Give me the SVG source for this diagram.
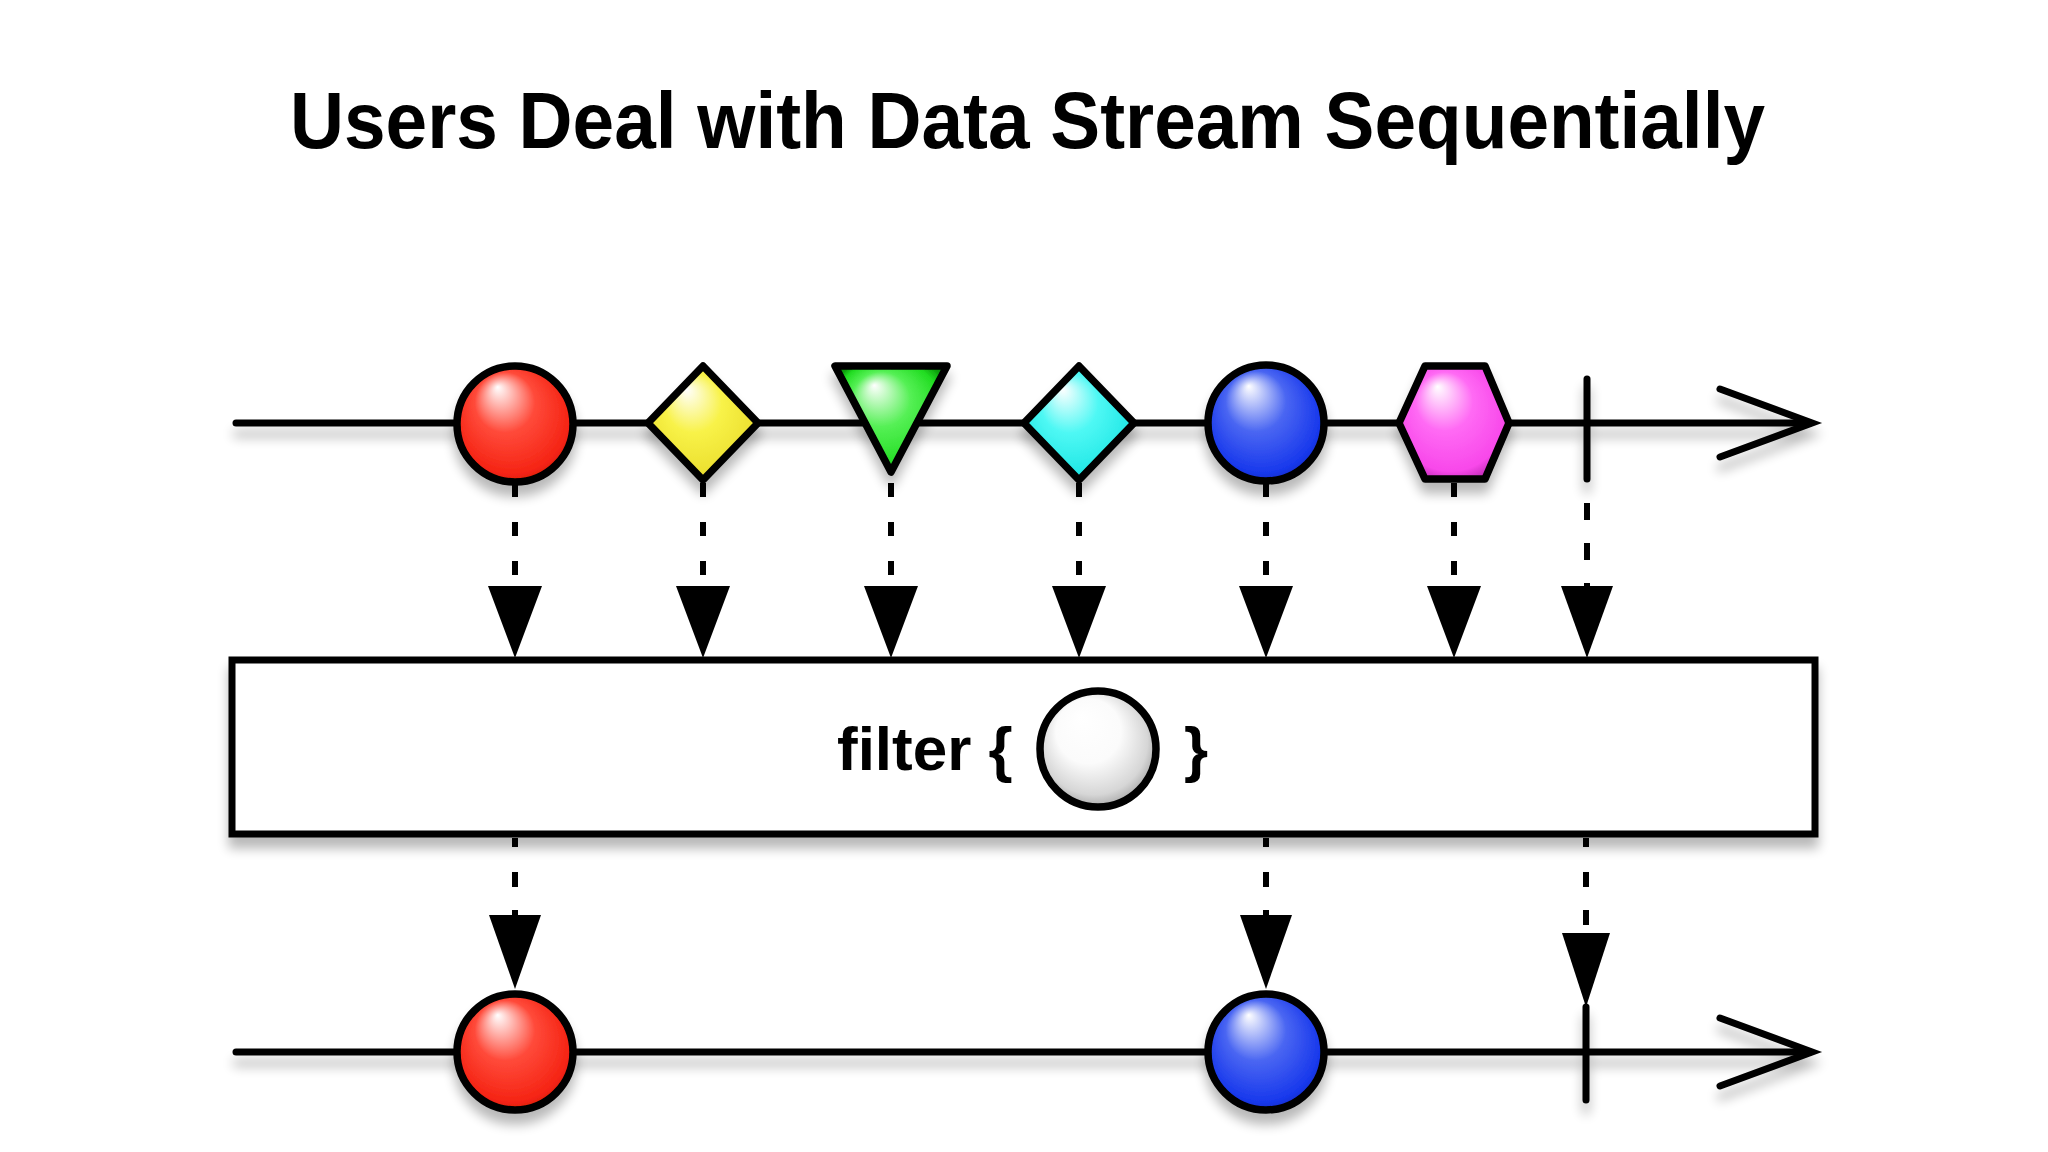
<svg xmlns="http://www.w3.org/2000/svg" width="2048" height="1152" viewBox="0 0 2048 1152">
  <defs>
    <filter id="shadow" x="-20%" y="-40%" width="140%" height="200%">
      <feGaussianBlur in="SourceAlpha" stdDeviation="6"/>
      <feOffset dx="0" dy="11" result="b"/>
      <feComponentTransfer><feFuncA type="linear" slope="0.28"/></feComponentTransfer>
      <feMerge><feMergeNode/><feMergeNode in="SourceGraphic"/></feMerge>
    </filter>
    <filter id="lshadow" x="-5%" y="-400%" width="110%" height="900%">
      <feGaussianBlur in="SourceAlpha" stdDeviation="6"/>
      <feOffset dx="0" dy="11" result="b"/>
      <feComponentTransfer><feFuncA type="linear" slope="0.28"/></feComponentTransfer>
      <feMerge><feMergeNode/><feMergeNode in="SourceGraphic"/></feMerge>
    </filter>
    <radialGradient id="gRed" cx="0.5" cy="0.5" r="0.62" fx="0.35" fy="0.18">
      <stop offset="0" stop-color="#ffffff"/>
      <stop offset="0.42" stop-color="#ff4a3a"/>
      <stop offset="0.8" stop-color="#f52414"/>
      <stop offset="1" stop-color="#b01000"/>
    </radialGradient>
    <radialGradient id="gYellow" cx="0.5" cy="0.5" r="0.62" fx="0.35" fy="0.2">
      <stop offset="0" stop-color="#ffffff"/>
      <stop offset="0.42" stop-color="#f8f248"/>
      <stop offset="0.8" stop-color="#ece030"/>
      <stop offset="1" stop-color="#b0a000"/>
    </radialGradient>
    <radialGradient id="gGreen" cx="0.5" cy="0.5" r="0.62" fx="0.35" fy="0.18">
      <stop offset="0" stop-color="#ffffff"/>
      <stop offset="0.42" stop-color="#55f055"/>
      <stop offset="0.8" stop-color="#22dd22"/>
      <stop offset="1" stop-color="#0a9a0a"/>
    </radialGradient>
    <radialGradient id="gCyan" cx="0.5" cy="0.5" r="0.62" fx="0.35" fy="0.2">
      <stop offset="0" stop-color="#ffffff"/>
      <stop offset="0.42" stop-color="#4ff8f4"/>
      <stop offset="0.8" stop-color="#22e8e6"/>
      <stop offset="1" stop-color="#0a9898"/>
    </radialGradient>
    <radialGradient id="gBlue" cx="0.5" cy="0.5" r="0.62" fx="0.35" fy="0.18">
      <stop offset="0" stop-color="#ffffff"/>
      <stop offset="0.42" stop-color="#4a66f2"/>
      <stop offset="0.8" stop-color="#1838ec"/>
      <stop offset="1" stop-color="#081a98"/>
    </radialGradient>
    <radialGradient id="gMagenta" cx="0.5" cy="0.5" r="0.62" fx="0.35" fy="0.18">
      <stop offset="0" stop-color="#ffffff"/>
      <stop offset="0.42" stop-color="#ff6af4"/>
      <stop offset="0.8" stop-color="#f848ea"/>
      <stop offset="1" stop-color="#a01a98"/>
    </radialGradient>
    <radialGradient id="gWhite" cx="0.5" cy="0.5" r="0.62" fx="0.35" fy="0.22">
      <stop offset="0" stop-color="#ffffff"/>
      <stop offset="0.45" stop-color="#fbfbfb"/>
      <stop offset="0.75" stop-color="#d6d6d6"/>
      <stop offset="1" stop-color="#7a7a7a"/>
    </radialGradient>
  </defs>
  <style>
    .ln { stroke: #000; stroke-width: 7; fill: none; stroke-linecap: round; }
    .shape { stroke: #000; stroke-width: 7.5; stroke-linejoin: round; }
    .dash { stroke: #000; stroke-width: 6; fill: none; }
    .head { fill: #000; }
    .title { font-family: "Liberation Sans", Arial, sans-serif; font-weight: bold; font-size: 79px; fill: #000; }
    .label { font-family: "Liberation Sans", Arial, sans-serif; font-weight: bold; font-size: 62px; fill: #000; }
  </style>
  <rect width="2048" height="1152" fill="#ffffff"/>

  <text class="title" x="290" y="148" textLength="1475" lengthAdjust="spacingAndGlyphs">Users Deal with Data Stream Sequentially</text>

  <!-- timelines -->
  <g id="top-timeline" filter="url(#lshadow)">
    <line class="ln" x1="236" y1="423" x2="1810" y2="423"/>
    <polyline class="ln" points="1720,389 1812,423 1720,457" stroke-linejoin="miter"/>
    <line class="ln" x1="1587" y1="379" x2="1587" y2="479" stroke-linecap="butt" stroke-width="6"/>
  </g>
  <g id="bottom-timeline" filter="url(#lshadow)">
    <line class="ln" x1="236" y1="1052" x2="1810" y2="1052"/>
    <polyline class="ln" points="1720,1018 1812,1052 1720,1086" stroke-linejoin="miter"/>
    <line class="ln" x1="1586" y1="1007" x2="1586" y2="1100" stroke-linecap="butt" stroke-width="6"/>
  </g>

  <!-- connectors -->
  <g id="connectors">
    <line class="dash" x1="515" y1="483" x2="515" y2="586" stroke-dasharray="14 25"/>
    <line class="dash" x1="703" y1="483" x2="703" y2="586" stroke-dasharray="14 25"/>
    <line class="dash" x1="891" y1="483" x2="891" y2="586" stroke-dasharray="14 25"/>
    <line class="dash" x1="1079" y1="483" x2="1079" y2="586" stroke-dasharray="14 25"/>
    <line class="dash" x1="1266" y1="483" x2="1266" y2="586" stroke-dasharray="14 25"/>
    <line class="dash" x1="1454" y1="483" x2="1454" y2="586" stroke-dasharray="14 25"/>
    <line class="dash" x1="1587" y1="503" x2="1587" y2="586" stroke-dasharray="17 23"/>
    <polygon class="head" points="488,586 542,586 515,658"/>
    <polygon class="head" points="676,586 730,586 703,658"/>
    <polygon class="head" points="864,586 918,586 891,658"/>
    <polygon class="head" points="1052,586 1106,586 1079,658"/>
    <polygon class="head" points="1239,586 1293,586 1266,658"/>
    <polygon class="head" points="1427,586 1481,586 1454,658"/>
    <polygon class="head" points="1561,586 1613,586 1587,658"/>

    <line class="dash" x1="515" y1="838" x2="515" y2="916" stroke-dasharray="9 25 15 23"/>
    <line class="dash" x1="1266" y1="838" x2="1266" y2="916" stroke-dasharray="9 25 15 23"/>
    <line class="dash" x1="1586" y1="838" x2="1586" y2="933" stroke-dasharray="9 25 15 23 15 100"/>
    <polygon class="head" points="489,915 541,915 515,989"/>
    <polygon class="head" points="1240,915 1292,915 1266,989"/>
    <polygon class="head" points="1562,933 1610,933 1586,1007"/>
  </g>

  <!-- top stream nodes -->
  <g id="node-red-top" filter="url(#shadow)">
    <circle class="shape" cx="515" cy="424" r="58" fill="url(#gRed)"/>
  </g>
  <g id="node-yellow" filter="url(#shadow)">
    <polygon class="shape" points="703,366 758,423 703,480 648,423" fill="url(#gYellow)"/>
  </g>
  <g id="node-green" filter="url(#shadow)">
    <polygon class="shape" points="835,366 947,366 891,472" fill="url(#gGreen)"/>
  </g>
  <g id="node-cyan" filter="url(#shadow)">
    <polygon class="shape" points="1079,366 1134,423 1079,480 1024,423" fill="url(#gCyan)"/>
  </g>
  <g id="node-blue-top" filter="url(#shadow)">
    <circle class="shape" cx="1266" cy="423" r="58" fill="url(#gBlue)"/>
  </g>
  <g id="node-magenta" filter="url(#shadow)">
    <polygon class="shape" points="1399,423 1425,366 1485,366 1509,423 1485,479 1425,479" fill="url(#gMagenta)"/>
  </g>

  <!-- filter box -->
  <g id="filter-box">
    <rect x="232" y="660" width="1583" height="174" fill="#ffffff" stroke="#000" stroke-width="7" filter="url(#shadow)"/>
    <text class="label" x="837" y="770">filter {</text>
    <circle class="shape" cx="1098" cy="749" r="58" fill="url(#gWhite)"/>
    <text class="label" x="1184" y="770">}</text>
  </g>

  <!-- bottom stream nodes -->
  <g id="node-red-bottom" filter="url(#shadow)">
    <circle class="shape" cx="515" cy="1052" r="58" fill="url(#gRed)"/>
  </g>
  <g id="node-blue-bottom" filter="url(#shadow)">
    <circle class="shape" cx="1266" cy="1052" r="58" fill="url(#gBlue)"/>
  </g>
</svg>
